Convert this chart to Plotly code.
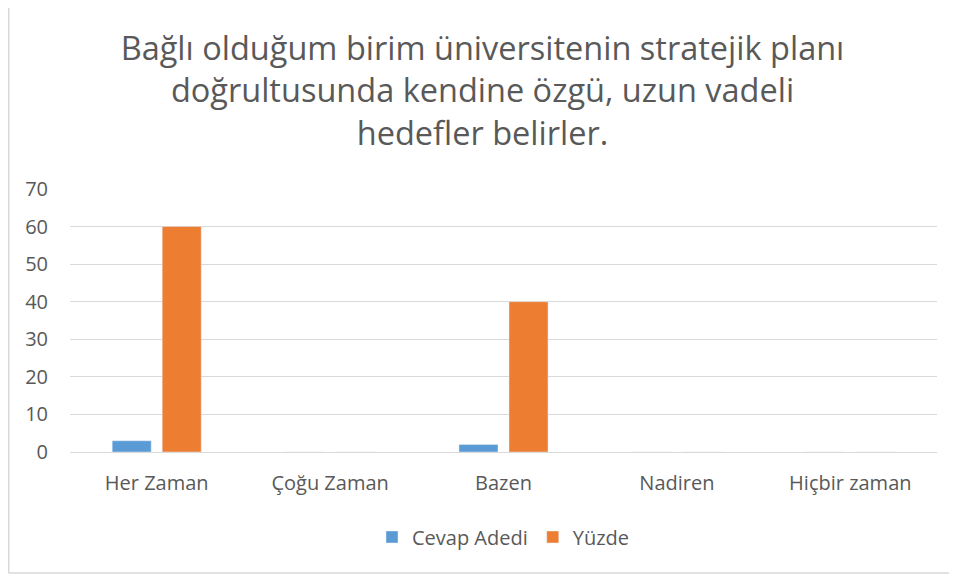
import plotly.graph_objects as go

categories = ["Her Zaman", "Çoğu Zaman", "Bazen", "Nadiren", "Hiçbir zaman"]
cevap_adedi = [3, 0, 2, 0, 0]
yuzde = [60, 0, 40, 0, 0]
y_ticks = [0, 10, 20, 30, 40, 50, 60, 70]

# page has an 8px body margin; work in figure coordinates
OFF = 8
W, H = 957 - OFF, 579 - OFF
L, T = 70 - OFF, 189 - OFF
R = W - (937 - OFF)
B = H - (452 - OFF)
pw, ph = W - L - R, H - T - B

def px_x(x):
    return (x - OFF - L) / pw

def px_y(y):
    return (H - B - (y - OFF)) / ph

FONT = "Open Sans, Noto Sans, sans-serif"

fig = go.Figure()
fig.add_trace(go.Bar(name="Cevap Adedi", x=categories, y=cevap_adedi, marker_color="#5B9BD5"))
fig.add_trace(go.Bar(name="Yüzde", x=categories, y=yuzde, marker_color="#ED7D31"))

fig.update_layout(
    width=W, height=H,
    margin=dict(l=L, r=R, t=T, b=B),
    paper_bgcolor="white", plot_bgcolor="white",
    font=dict(family=FONT, color="#595959", size=21),
    title=dict(
        text="Bağlı olduğum birim üniversitenin stratejik planı<br>doğrultusunda kendine özgü, uzun vadeli<br>hedefler belirler.",
        x=0.5, xanchor="center", y=1 - (60 - OFF) / H, yanchor="middle",
        font=dict(size=32.5, color="#595959", family=FONT),
    ),
    barmode="group", bargap=0.423, bargroupgap=0.22,
    legend=dict(orientation="h", x=0.5, xanchor="center", y=px_y(537), yanchor="middle",
                font=dict(size=20, color="#595959"), itemwidth=30, tracegroupgap=0),
    xaxis=dict(showgrid=False, showline=False, ticks="", tickfont=dict(size=20),
               ticklabelstandoff=17),
    yaxis=dict(range=[0, 70], tickvals=y_ticks, showgrid=True, gridcolor="#D9D9D9", gridwidth=1,
               zeroline=True, zerolinecolor="#D9D9D9", zerolinewidth=1, ticks="",
               tickfont=dict(size=20), ticklabelstandoff=21),
    showlegend=True,
)
border = dict(color="#D9D9D9", width=1.5)
fig.add_shape(type="line", xref="paper", yref="paper",
              x0=px_x(8.7), x1=px_x(8.7), y0=px_y(573), y1=px_y(0), line=border, layer="below")
fig.add_shape(type="line", xref="paper", yref="paper",
              x0=px_x(8.7), x1=px_x(957), y0=px_y(573), y1=px_y(573), line=border, layer="below")

fig.write_html("out.html")
